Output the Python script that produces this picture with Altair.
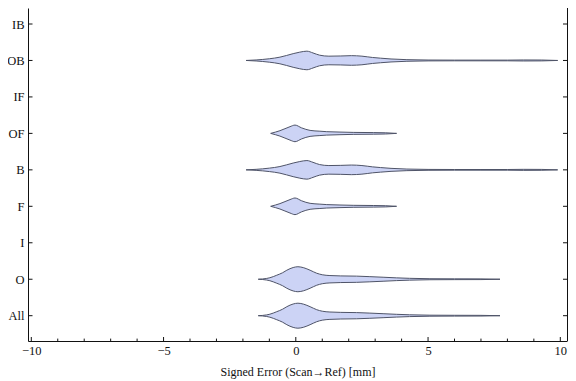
import json
import altair as alt
import pandas as pd

# ---- data ----
categories = ["IB", "OB", "IF", "OF", "B", "F", "I", "O", "All"]

# violin profiles: x position (mm) and half-width (in row units)
shape_a_x = [-1.88, -1.5, -1.0, -0.6, -0.35, -0.1, 0.15, 0.42, 0.65, 0.9, 1.25, 1.7,
             2.1, 2.5, 2.9, 3.2, 3.6, 4.2, 5.0, 6.0, 7.0, 8.0, 8.6, 9.3, 9.9]
shape_a_w = [0, 0.014, 0.047, 0.091, 0.137, 0.187, 0.228, 0.255, 0.206, 0.145, 0.118, 0.123,
             0.132, 0.118, 0.082, 0.063, 0.041, 0.022, 0.012, 0.0096, 0.0096, 0.0096, 0.014, 0.012, 0]

shape_c_x = [-0.95, -0.6, -0.22, -0.03, 0.22, 0.54, 0.91, 1.17, 1.67, 2.17, 2.93, 3.4, 3.81]
shape_c_w = [0, 0.074, 0.184, 0.228, 0.151, 0.082, 0.060, 0.047, 0.036, 0.027, 0.022, 0.016, 0]

shape_b_x = [-1.42, -1.1, -0.98, -0.72, -0.5, -0.34, -0.1, 0.08, 0.3, 0.54, 0.79, 1.0,
             1.29, 1.7, 2.3, 2.8, 3.3, 3.8, 4.3, 5.07, 6.0, 7.0, 7.72]
shape_b_w = [0, 0.022, 0.041, 0.11, 0.178, 0.247, 0.321, 0.343, 0.315, 0.247, 0.165, 0.123,
             0.101, 0.091, 0.085, 0.071, 0.055, 0.038, 0.025, 0.014, 0.011, 0.0096, 0]

category_shape = {"OB": "a", "OF": "c", "B": "a", "F": "c", "O": "b", "All": "b"}

major_ticks = [-10, -5, 0, 5, 10]
minor_ticks = [-9, -8, -7, -6, -4, -3, -2, -1, 1, 2, 3, 4, 6, 7, 8, 9]

x_title = "Signed Error (Scan\u2192Ref) [mm]"

# ---- build tables ----
shapes = {"a": (shape_a_x, shape_a_w), "b": (shape_b_x, shape_b_w), "c": (shape_c_x, shape_c_w)}
rows = []
for idx, cat in enumerate(categories):
    if cat not in category_shape:
        continue
    xs_, ws_ = shapes[category_shape[cat]]
    for xv, wv in zip(xs_, ws_):
        rows.append({"cat": cat, "x": xv, "lo": idx - wv, "hi": idx + wv})
df_v = pd.DataFrame(rows)

W, H = 539, 333
FONT = "Liberation Serif"
INK = "#111111"

xs = alt.Scale(domain=[-10.125, 10.253], nice=False, zero=False)
ys = alt.Scale(domain=[-0.439, 8.694], nice=False, zero=False, reverse=True)

label_expr = json.dumps(categories) + "[datum.value]"

xaxis = alt.Axis(
    values=major_ticks, ticks=False, tickSize=0, grid=False, domain=True,
    domainColor=INK, labelFont=FONT, labelFontSize=12.5, labelColor=INK,
    labelPadding=3, title=x_title, titleFont=FONT, titleFontSize=12,
    titleFontWeight="normal", titleColor=INK, titlePadding=10)
yaxis = alt.Axis(
    values=list(range(len(categories))), labelExpr=label_expr, ticks=False, tickSize=0,
    grid=False, domain=True, domainColor=INK, labelFont=FONT, labelFontSize=12.5,
    labelColor=INK, labelPadding=4, title="", labelBound=False)

violins = alt.Chart(df_v).mark_area(
    orient="vertical", interpolate="monotone",
    fill="#ccd3f5", stroke="#4f5468", strokeWidth=1, strokeJoin="round"
).encode(
    x=alt.X("x:Q", scale=xs, axis=xaxis),
    y=alt.Y("lo:Q", scale=ys, axis=yaxis),
    y2="hi:Q",
    detail="cat:N",
)

df_major = pd.DataFrame({"t": major_ticks})
df_minor = pd.DataFrame({"t": minor_ticks})
df_rows = pd.DataFrame({"i": list(range(len(categories)))})

x_major = alt.Chart(df_major).mark_rule(color=INK, strokeWidth=1).encode(
    x=alt.X("t:Q", scale=xs, axis=xaxis), y=alt.value(H), y2=alt.value(H - 4))
x_minor = alt.Chart(df_minor).mark_rule(color=INK, strokeWidth=1).encode(
    x=alt.X("t:Q", scale=xs, axis=xaxis), y=alt.value(H), y2=alt.value(H - 2.4))
y_left = alt.Chart(df_rows).mark_rule(color=INK, strokeWidth=1).encode(
    y=alt.Y("i:Q", scale=ys, axis=yaxis), x=alt.value(0), x2=alt.value(4.5))
y_right = alt.Chart(df_rows).mark_rule(color=INK, strokeWidth=1).encode(
    y=alt.Y("i:Q", scale=ys, axis=yaxis), x=alt.value(W), x2=alt.value(W - 4))
right_frame = alt.Chart(df_rows).mark_rule(color=INK, strokeWidth=1).encode(
    x=alt.value(W + 0.5), y=alt.value(0), y2=alt.value(H))

chart = alt.layer(violins, x_major, x_minor, y_left, y_right, right_frame).properties(
    width=W, height=H,
    autosize=alt.AutoSizeParams(type="none"),
    padding={"left": 20, "top": 0, "right": 1, "bottom": 38},
    background="white",
).configure_view(strokeWidth=0)

chart.save("out.html", embed_options={"renderer": "svg", "actions": False})
